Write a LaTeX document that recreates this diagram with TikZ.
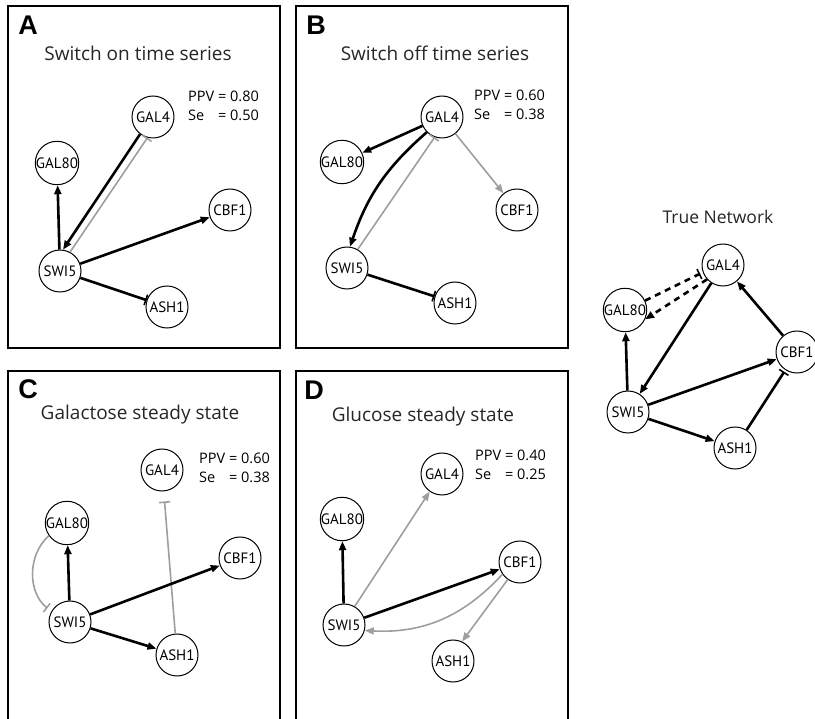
\documentclass[tikz,border=0pt]{standalone}
\usepackage{fontspec}
\setmainfont{Open Sans}
\newfontfamily\letterfont{Liberation Sans}
\newfontfamily\genefont{PT Sans}
\usetikzlibrary{arrows.meta}

\begin{document}
\begin{tikzpicture}[x=1pt,y=-1pt,
    gene/.style={circle,draw,line width=1pt,minimum size=42pt,inner sep=0pt,fill=white,
      font=\genefont\fontsize{15}{15}\selectfont},
    act/.style={-{Triangle[length=9pt,width=7pt]},line width=2.6pt},
    inh/.style={-{Bar[width=11pt,line width=1.6pt]},line width=2.6pt},
    gact/.style={act,draw=black!38,line width=1.6pt},
    ginh/.style={inh,draw=black!38,line width=1.6pt},
    panel/.style={draw,line width=2.4pt},
    letter/.style={font=\letterfont\bfseries\fontsize{27}{27}\selectfont},
    heading/.style={font=\fontsize{19}{19}\selectfont,text=black!85},
    score/.style={anchor=west,inner sep=0pt,font=\fontsize{14.5}{19}\selectfont}]
    \useasboundingbox (0,0) rectangle (815,719);

    % Frames
    \draw[panel] (8,6) rectangle (280,348);
    \draw[panel] (296,6) rectangle (568,348);
    \draw[panel] (8,371) rectangle (280,730);
    \draw[panel] (296,371) rectangle (568,730);

    % A: switch on
    \node[letter] (aLetter) at (28,25) {A};
    \node[heading] (aTitle) at (138,53) {Switch on time series};
    \node[score] (aScore) at (188,107) {\begin{tabular}{@{}l@{ }l@{}}PPV&= 0.80\\Se&= 0.50\end{tabular}};
    \node[gene] (aGAL4) at (153,117) {GAL4};
    \node[gene] (aGAL80) at (57,163) {GAL80};
    \node[gene] (aCBF1) at (230,210) {CBF1};
    \node[gene] (aSWI5) at (60,271) {SWI5};
    \node[gene] (aASH1) at (167,307) {ASH1};
    \draw[act] (aSWI5) -- (aGAL80);
    \draw[act] (aGAL4.233) -- (aSWI5.82);
    \draw[ginh] (aSWI5.62) -- (aGAL4.255);
    \draw[act] (aSWI5) -- (aCBF1);
    \draw[inh] (aSWI5) -- (aASH1);

    % B: switch off
    \node[letter] (bLetter) at (316,25) {B};
    \node[heading] (bTitle) at (435,53) {Switch off time series};
    \node[score] (bScore) at (474,106) {\begin{tabular}{@{}l@{ }l@{}}PPV&= 0.60\\Se&= 0.38\end{tabular}};
    \node[gene] (bGAL4) at (442,117) {GAL4};
    \node[gene] (bGAL80) at (342,162) {GAL80};
    \node[gene] (bCBF1) at (517,210) {CBF1};
    \node[gene] (bSWI5) at (347,268) {SWI5};
    \node[gene] (bASH1) at (455,303) {ASH1};
    \draw[act] (bGAL4) -- (bGAL80);
    \draw[act] (bGAL4.225) to[bend right=15] (bSWI5.82);
    \draw[ginh] (bSWI5.60) -- (bGAL4.250);
    \draw[gact] (bGAL4) -- (bCBF1);
    \draw[inh] (bSWI5) -- (bASH1);

    % C: galactose
    \node[letter] (cLetter) at (28,389) {C};
    \node[heading] (cTitle) at (140,415) {Galactose steady state};
    \node[score] (cScore) at (199,469) {\begin{tabular}{@{}l@{ }l@{}}PPV&= 0.60\\Se&= 0.38\end{tabular}};
    \node[gene] (cGAL4) at (162,470) {GAL4};
    \node[gene] (cGAL80) at (67,523) {GAL80};
    \node[gene] (cCBF1) at (240,558) {CBF1};
    \node[gene] (cSWI5) at (70,622) {SWI5};
    \node[gene] (cASH1) at (177,655) {ASH1};
    \draw[act] (cSWI5) -- (cGAL80);
    \draw[ginh,shorten >=5pt] (cGAL80.215) to[bend right=50] (cSWI5.150);
    \draw[ginh,shorten >=10pt] (cASH1) -- (cGAL4);
    \draw[act] (cSWI5) -- (cCBF1);
    \draw[act] (cSWI5) -- (cASH1);

    % D: glucose
    \node[letter] (dLetter) at (314,390) {D};
    \node[heading] (dTitle) at (423,417) {Glucose steady state};
    \node[score] (dScore) at (475,466) {\begin{tabular}{@{}l@{ }l@{}}PPV&= 0.40\\Se&= 0.25\end{tabular}};
    \node[gene] (dGAL4) at (442,474) {GAL4};
    \node[gene] (dGAL80) at (342,519) {GAL80};
    \node[gene] (dCBF1) at (520,562) {CBF1};
    \node[gene] (dSWI5) at (344,625) {SWI5};
    \node[gene] (dASH1) at (453,661) {ASH1};
    \draw[act] (dSWI5) -- (dGAL80);
    \draw[gact] (dSWI5.60) -- (dGAL4.235);
    \draw[act] (dSWI5) -- (dCBF1);
    \draw[gact] (dCBF1.215) to[bend left=25] (dSWI5.-15);
    \draw[gact] (dCBF1.235) -- (dASH1.65);

    % True network
    \node[heading,font=\fontsize{17.5}{17.5}\selectfont] (tTitle) at (718,217) {True Network};
    \node[gene] (tGAL4) at (723,265) {GAL4};
    \node[gene] (tGAL80) at (625,310) {GAL80};
    \node[gene] (tCBF1) at (797,352) {CBF1};
    \node[gene] (tSWI5) at (628,412) {SWI5};
    \node[gene] (tASH1) at (735,448) {ASH1};
    \draw[act] (tSWI5) -- (tGAL80);
    \draw[act] (tGAL4) -- (tSWI5);
    \draw[act] (tSWI5) -- (tCBF1);
    \draw[act] (tSWI5) -- (tASH1);
    \draw[inh,shorten >=2pt] (tASH1) -- (tCBF1);
    \draw[act] (tCBF1) -- (tGAL4);
    \draw[inh,dashed,dash pattern=on 6pt off 5pt,shorten >=3pt] (tGAL80.25) -- (tGAL4.200);
    \draw[act,dashed,dash pattern=on 6pt off 5pt] (tGAL4.222) -- (tGAL80.-25);
\end{tikzpicture}
\end{document}
